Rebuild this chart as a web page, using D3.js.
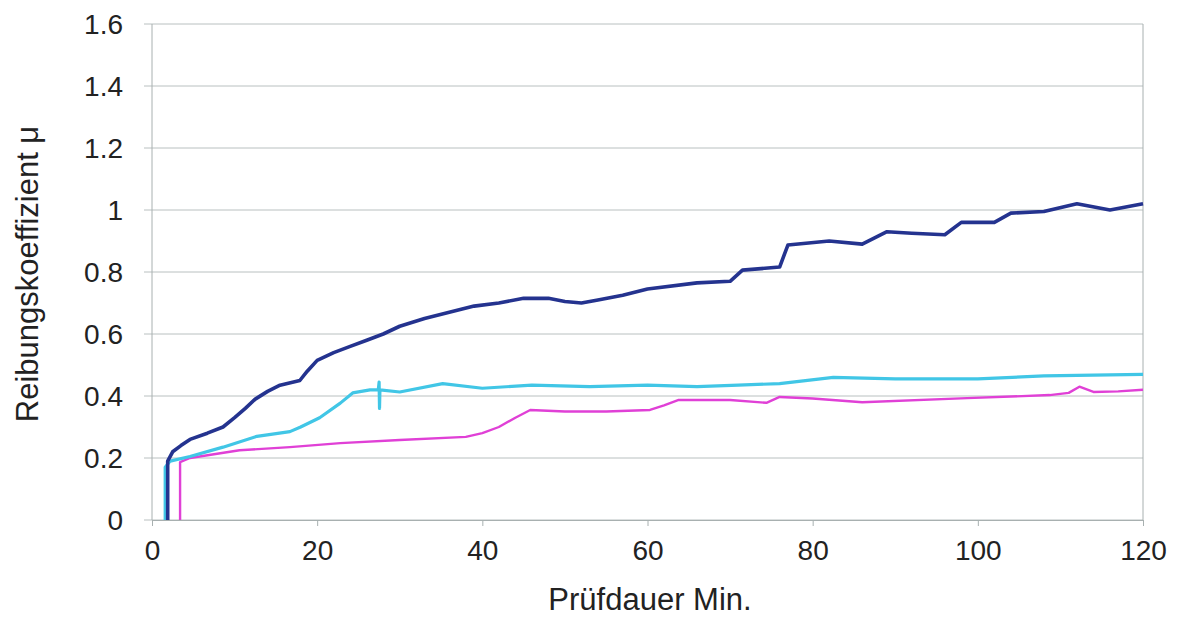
<!DOCTYPE html>
<meta charset="utf-8">
<style>
body { margin: 0; background: #fff; }
svg text { font-family: 'Liberation Sans', Arial, sans-serif; fill: #222; }
.grid line { stroke: #b9c0c0; stroke-width: 1; }
.axis path, .axis line { stroke: #a8b0b0; }
.series { fill: none; stroke-linejoin: round; }
</style>
<body>
<svg width="1183" height="617"></svg>
<script src="https://d3js.org/d3.v7.min.js"></script>
<script>
// x: Prüfdauer [min], y: Reibungskoeffizient μ
var xTicks = [0, 20, 40, 60, 80, 100, 120];
var yTicks = [0, 0.2, 0.4, 0.6, 0.8, 1.0, 1.2, 1.4, 1.6];
var yTickLabels = ["0", "0.2", "0.4", "0.6", "0.8", "1", "1.2", "1.4", "1.6"];

var navyTime = [1.9, 1.9, 2.5, 3.5, 4.6, 6.7, 8.6, 10, 11.3, 12.5, 14, 15.5, 17.9, 18.8, 20, 22, 24, 26, 28, 30, 33, 36, 39, 42, 45, 48, 50, 52, 54, 57, 60, 66, 70, 71.5, 76, 77, 82, 86, 89, 92, 96, 98, 102, 104, 108, 112, 116, 120];
var navyMu   = [0, 0.19, 0.22, 0.24, 0.26, 0.28, 0.30, 0.33, 0.36, 0.39, 0.415, 0.435, 0.45, 0.48, 0.515, 0.54, 0.56, 0.58, 0.60, 0.625, 0.65, 0.67, 0.69, 0.70, 0.715, 0.715, 0.705, 0.70, 0.71, 0.725, 0.745, 0.765, 0.77, 0.806, 0.816, 0.887, 0.90, 0.89, 0.93, 0.925, 0.92, 0.96, 0.96, 0.99, 0.995, 1.02, 1.0, 1.02];

var cyanTime = [1.6, 1.6, 2.2, 4.6, 8.6, 12.7, 16.7, 18, 20.3, 22.8, 24.3, 26.4, 27.4, 27.5, 27.55, 27.6, 30, 35.2, 40, 46, 53, 60, 66, 71, 76, 82.5, 90, 100, 108, 120];
var cyanMu   = [0, 0.17, 0.19, 0.205, 0.235, 0.27, 0.285, 0.30, 0.33, 0.377, 0.41, 0.42, 0.42, 0.445, 0.36, 0.42, 0.413, 0.44, 0.425, 0.435, 0.43, 0.435, 0.43, 0.435, 0.44, 0.46, 0.455, 0.455, 0.465, 0.47];

var pinkTime = [3.4, 3.4, 4.6, 10.6, 16.7, 22.8, 30, 38, 40, 42, 44, 45.8, 50, 55, 60.3, 62, 63.7, 70, 74.4, 76, 80, 86, 98.7, 108.7, 111, 112.3, 114, 117, 120];
var pinkMu   = [0, 0.187, 0.2, 0.225, 0.235, 0.248, 0.258, 0.268, 0.28, 0.30, 0.33, 0.355, 0.35, 0.35, 0.355, 0.37, 0.387, 0.387, 0.378, 0.397, 0.392, 0.38, 0.393, 0.403, 0.41, 0.43, 0.413, 0.415, 0.42];

var series = [
  { t: pinkTime, mu: pinkMu, color: "#e040d6", width: 2.4 },
  { t: cyanTime, mu: cyanMu, color: "#41c6e6", width: 3.2 },
  { t: navyTime, mu: navyMu, color: "#24338f", width: 3.6 }
];

var svg = d3.select("svg");
var margin = { left: 152, right: 40, top: 24, bottom: 97 };
var width = 1183 - margin.left - margin.right,
    height = 617 - margin.top - margin.bottom;

var x = d3.scaleLinear().domain([0, 120]).range([0, width]);
var y = d3.scaleLinear().domain([0, 1.6]).range([height, 0]);

var g = svg.append("g").attr("transform", "translate(" + margin.left + "," + margin.top + ")");

// horizontal gridlines (extend left as ticks)
g.append("g").attr("class", "grid")
  .selectAll("line").data(yTicks).enter().append("line")
    .attr("x1", -8).attr("x2", width)
    .attr("y1", function(d) { return y(d); })
    .attr("y2", function(d) { return y(d); });

// left and right frame
g.append("line").attr("x1", 0).attr("x2", 0).attr("y1", 0).attr("y2", height)
  .attr("stroke", "#a8b0b0");
g.append("line").attr("x1", width).attr("x2", width).attr("y1", 0).attr("y2", height)
  .attr("stroke", "#a8b0b0");

// y labels
g.append("g").selectAll("text").data(yTicks).enter().append("text")
    .attr("x", -29)
    .attr("y", function(d) { return y(d); })
    .attr("dy", "0.36em")
    .attr("text-anchor", "end")
    .style("font-size", "28px")
    .text(function(d, i) { return yTickLabels[i]; });

// x axis
var xAxis = g.append("g").attr("class", "axis")
    .attr("transform", "translate(0," + height + ")")
    .call(d3.axisBottom(x).tickValues(xTicks).tickSize(6).tickPadding(14).tickSizeOuter(0));
xAxis.select(".domain").attr("stroke", "#a8b0b0");
xAxis.selectAll("text").style("font-size", "28px").attr("fill", "#222");

var line = d3.line()
    .x(function(d) { return x(d[0]); })
    .y(function(d) { return y(d[1]); });

series.forEach(function(s) {
  var pts = s.t.map(function(t, i) { return [t, s.mu[i]]; });
  g.append("path").attr("class", "series")
    .attr("d", line(pts))
    .attr("stroke", s.color)
    .attr("stroke-width", s.width);
});

// axis titles
svg.append("text")
    .attr("x", 650)
    .attr("y", 610)
    .attr("text-anchor", "middle")
    .style("font-size", "31px")
    .text("Prüfdauer Min.");

svg.append("text")
    .attr("transform", "translate(38," + 274 + ") rotate(-90)")
    .attr("text-anchor", "middle")
    .style("font-size", "31px")
    .text("Reibungskoeffizient μ");
</script>
</body>
